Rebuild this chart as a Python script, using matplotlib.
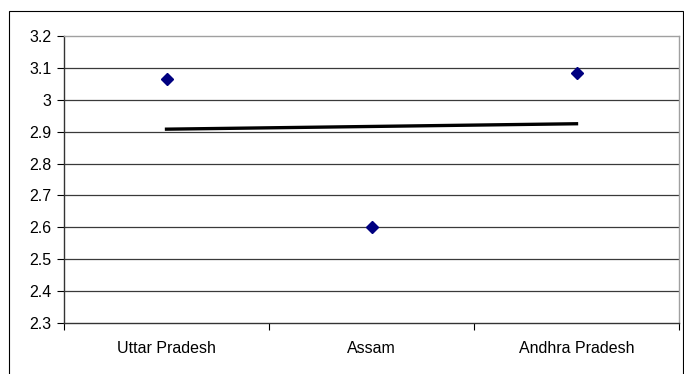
import numpy as np
import matplotlib
matplotlib.use("Agg")
import matplotlib.pyplot as plt
from matplotlib.patches import Rectangle

plt.rcParams["font.family"] = ["Liberation Sans", "DejaVu Sans"]

# data
states = ["Uttar Pradesh", "Assam", "Andhra Pradesh"]
values = [3.066, 2.6, 3.083]
y_ticks = [2.3, 2.4, 2.5, 2.6, 2.7, 2.8, 2.9, 3.0, 3.1, 3.2]
y_labels = ["2.3", "2.4", "2.5", "2.6", "2.7", "2.8", "2.9", "3", "3.1", "3.2"]

fig = plt.figure(figsize=(6.84, 3.74), dpi=100)
ax = fig.add_axes([64 / 684, 51 / 374, 615 / 684, 287 / 374])

# outer chart border
fig.patches.append(Rectangle((9 / 684, -0.01), 674 / 684, 367 / 374, transform=fig.transFigure,
                             fill=False, edgecolor="black", linewidth=0.8))

x = np.arange(len(states))
ax.set_xlim(-0.5, len(states) - 0.5)
ax.set_ylim(2.3, 3.2)

for t in y_ticks[1:-1]:
    ax.axhline(t, color="#3a3a3a", linewidth=0.9, zorder=1)

# linear trend line
k, b = np.polyfit(x, values, 1)
ax.plot(x, k * x + b, color="black", linewidth=2.4, zorder=2)

ax.plot(x, values, linestyle="none", marker="D", markersize=6.5,
        color="#000080", zorder=3)

ax.set_yticks(y_ticks)
ax.set_yticklabels(y_labels)
ax.set_xticks(np.arange(-0.5, len(states)), minor=False)
ax.set_xticklabels([])
ax.set_xticks(x, minor=True)
ax.set_xticklabels(states, minor=True)
ax.tick_params(axis="x", which="minor", length=0, pad=13, labelsize=11.5)
ax.tick_params(axis="x", which="major", length=5, width=0.8, direction="out")
ax.tick_params(axis="y", length=5, width=0.8, direction="out", labelsize=11.5, pad=4)

ax.spines["left"].set_color("#333333")
ax.spines["bottom"].set_color("#333333")
ax.spines["top"].set_color("#a0a0a0")
ax.spines["right"].set_color("#a0a0a0")
for s in ax.spines.values():
    s.set_linewidth(1.0)

fig.savefig("out.png", dpi=100)
